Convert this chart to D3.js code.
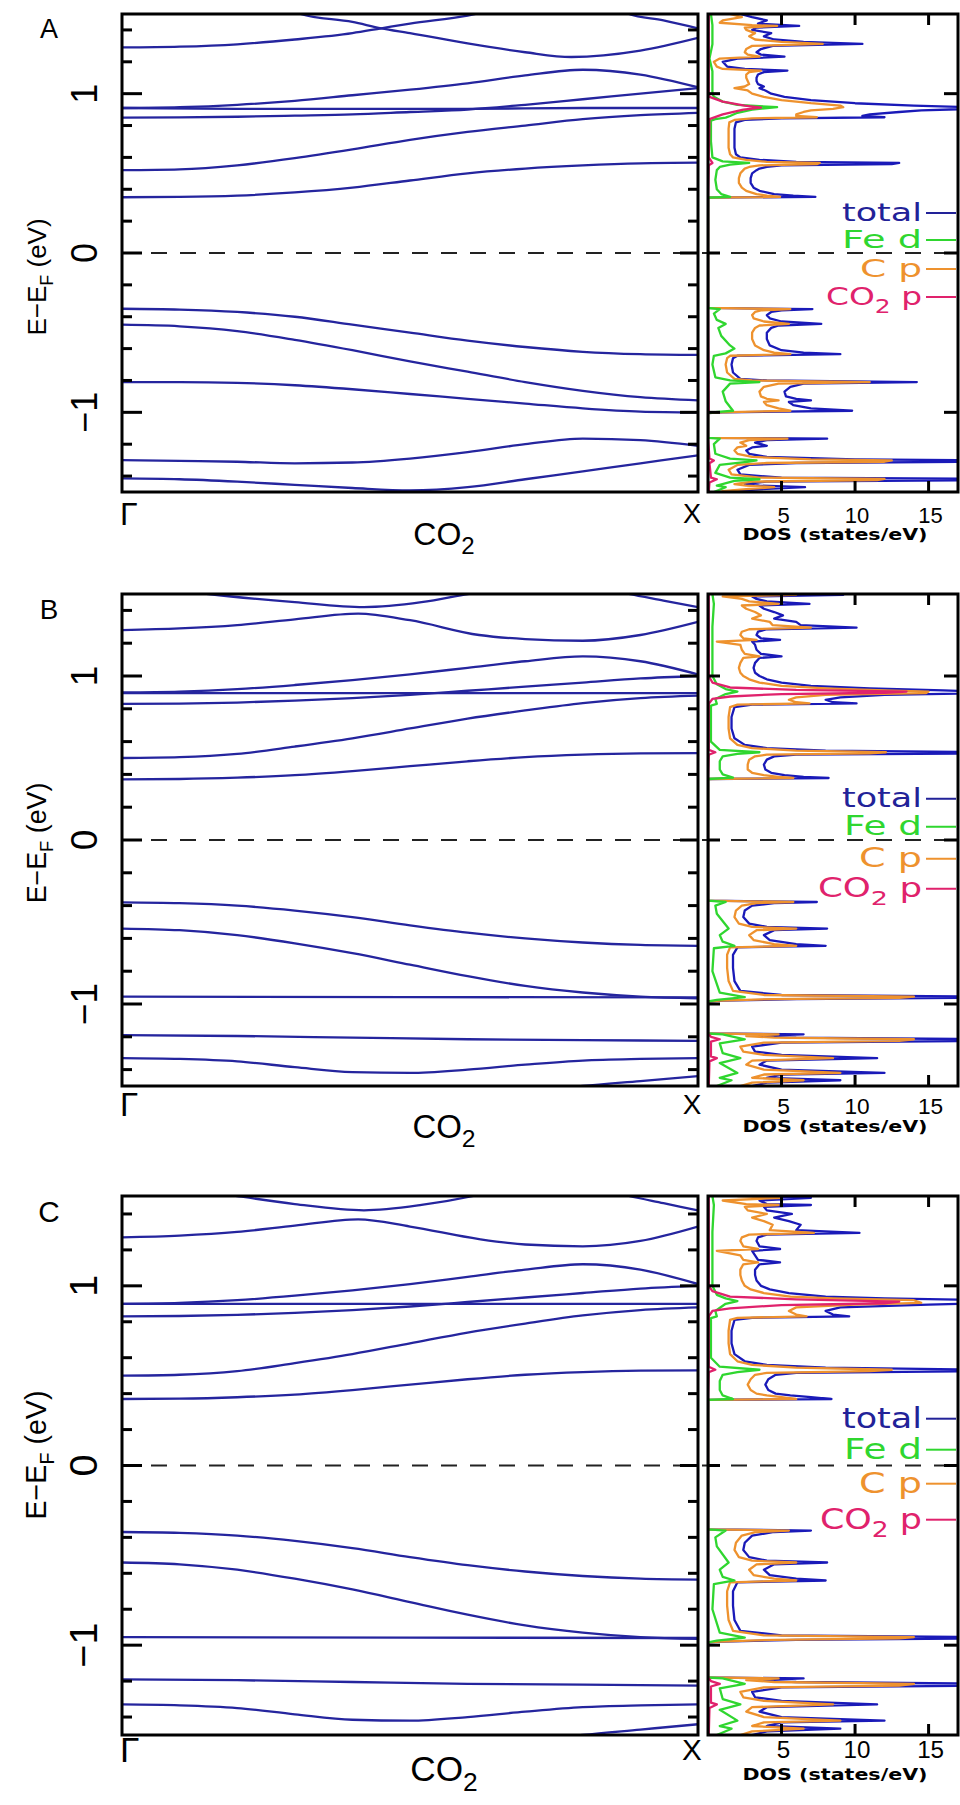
<!DOCTYPE html>
<html><head><meta charset="utf-8">
<script src="https://cdn.jsdelivr.net/npm/d3@7"></script>
<style>body{margin:0;background:#fff}svg{display:block}</style>
</head><body>
<svg id="chart" width="960" height="1805"></svg>
<script>
// ---------------- DATA ----------------
const panelLetters = ["A", "B", "C"];
const yMajorTicks = [-1, 0, 1];
const yMinorTicks = [-1.4, -1.2, -0.8, -0.6, -0.4, -0.2, 0.2, 0.4, 0.6, 0.8, 1.2, 1.4];
const dosTicks = [5, 10, 15];
const kPointLabels = ["Γ", "X"];
const legendLabels = ["total", "Fe d", "C p", "CO2 p"];

// bands: each band is a list of [k (0=Γ .. 1=X), E-EF (eV)]
const bandsA = [
  [[0,0.35],[0.1,0.352],[0.2,0.36],[0.3,0.38],[0.4,0.41],[0.5,0.455],[0.6,0.50],[0.7,0.53],[0.8,0.55],[0.9,0.563],[1,0.567]],
  [[0,0.52],[0.1,0.525],[0.2,0.55],[0.3,0.595],[0.4,0.65],[0.5,0.71],[0.6,0.76],[0.7,0.80],[0.8,0.84],[0.9,0.865],[1,0.88]],
  [[0,0.91],[0.2,0.905],[0.4,0.905],[0.6,0.905],[0.8,0.91],[1,0.91]],
  [[0,0.85],[0.1,0.851],[0.2,0.855],[0.3,0.862],[0.4,0.87],[0.5,0.885],[0.6,0.90],[0.7,0.93],[0.8,0.965],[0.9,1.0],[1,1.035]],
  [[0,0.91],[0.1,0.915],[0.2,0.93],[0.3,0.955],[0.4,0.99],[0.5,1.025],[0.6,1.065],[0.7,1.115],[0.8,1.15],[0.9,1.12],[1,1.04]],
  [[0.29,1.53],[0.31,1.5],[0.4,1.45],[0.45,1.41],[0.5,1.38],[0.6,1.315],[0.7,1.26],[0.78,1.23],[0.9,1.27],[1,1.35]],
  [[0,1.29],[0.1,1.295],[0.2,1.31],[0.3,1.34],[0.4,1.38],[0.45,1.41],[0.5,1.44],[0.6,1.49],[0.65,1.53]],
  [[0.86,1.53],[0.88,1.5],[0.94,1.46],[1,1.41]],
  [[0,-0.35],[0.1,-0.355],[0.2,-0.37],[0.3,-0.40],[0.4,-0.45],[0.5,-0.50],[0.6,-0.55],[0.7,-0.59],[0.8,-0.62],[0.9,-0.635],[1,-0.64]],
  [[0,-0.45],[0.1,-0.46],[0.2,-0.49],[0.3,-0.545],[0.4,-0.61],[0.5,-0.68],[0.6,-0.745],[0.7,-0.81],[0.8,-0.865],[0.9,-0.905],[1,-0.925]],
  [[0,-0.81],[0.1,-0.81],[0.2,-0.815],[0.3,-0.83],[0.4,-0.855],[0.5,-0.885],[0.6,-0.915],[0.7,-0.945],[0.8,-0.975],[0.9,-0.995],[1,-1.0]],
  [[0,-1.30],[0.1,-1.305],[0.2,-1.31],[0.3,-1.32],[0.4,-1.315],[0.5,-1.29],[0.6,-1.25],[0.7,-1.20],[0.8,-1.165],[0.9,-1.175],[1,-1.21]],
  [[0,-1.415],[0.1,-1.42],[0.2,-1.435],[0.3,-1.455],[0.4,-1.475],[0.5,-1.49],[0.6,-1.47],[0.7,-1.42],[0.8,-1.37],[0.9,-1.32],[1,-1.27]]
];
const bandsB = [
  [[0,0.37],[0.1,0.372],[0.2,0.38],[0.3,0.395],[0.4,0.42],[0.5,0.45],[0.6,0.48],[0.7,0.505],[0.8,0.52],[0.9,0.528],[1,0.53]],
  [[0,0.50],[0.1,0.505],[0.2,0.525],[0.3,0.57],[0.4,0.62],[0.5,0.68],[0.6,0.74],[0.7,0.79],[0.8,0.835],[0.9,0.865],[1,0.88]],
  [[0,0.895],[0.5,0.895],[1,0.895]],
  [[0,0.83],[0.1,0.832],[0.2,0.838],[0.3,0.85],[0.4,0.865],[0.5,0.885],[0.6,0.91],[0.7,0.935],[0.8,0.96],[0.9,0.985],[1,1.0]],
  [[0,0.90],[0.1,0.905],[0.2,0.92],[0.3,0.945],[0.4,0.975],[0.5,1.01],[0.6,1.05],[0.7,1.09],[0.8,1.12],[0.9,1.09],[1,1.01]],
  [[0,1.28],[0.1,1.29],[0.2,1.31],[0.3,1.345],[0.41,1.38],[0.5,1.34],[0.62,1.25],[0.7,1.225],[0.8,1.215],[0.9,1.25],[1,1.33]],
  [[0.08,1.53],[0.15,1.5],[0.3,1.45],[0.42,1.42],[0.52,1.45],[0.6,1.5],[0.65,1.53]],
  [[0.84,1.53],[0.88,1.5],[0.94,1.46],[1,1.42]],
  [[0,-0.38],[0.1,-0.385],[0.2,-0.40],[0.3,-0.43],[0.4,-0.47],[0.5,-0.52],[0.6,-0.565],[0.7,-0.60],[0.8,-0.625],[0.9,-0.64],[1,-0.645]],
  [[0,-0.54],[0.1,-0.55],[0.2,-0.58],[0.3,-0.63],[0.4,-0.69],[0.5,-0.76],[0.6,-0.83],[0.7,-0.89],[0.8,-0.93],[0.9,-0.955],[1,-0.965]],
  [[0,-0.955],[0.5,-0.958],[1,-0.96]],
  [[0,-1.19],[0.2,-1.195],[0.4,-1.205],[0.6,-1.215],[0.8,-1.22],[1,-1.225]],
  [[0,-1.33],[0.1,-1.335],[0.2,-1.35],[0.3,-1.385],[0.4,-1.415],[0.5,-1.42],[0.6,-1.40],[0.7,-1.37],[0.8,-1.345],[0.9,-1.335],[1,-1.33]],
  [[0.72,-1.53],[0.8,-1.5],[0.9,-1.47],[1,-1.44]]
];
const bandsC = [
  [[0,0.37],[0.1,0.372],[0.2,0.38],[0.3,0.395],[0.4,0.42],[0.5,0.45],[0.6,0.48],[0.7,0.505],[0.8,0.52],[0.9,0.528],[1,0.53]],
  [[0,0.50],[0.1,0.505],[0.2,0.525],[0.3,0.57],[0.4,0.62],[0.5,0.68],[0.6,0.74],[0.7,0.79],[0.8,0.835],[0.9,0.865],[1,0.88]],
  [[0,0.90],[0.5,0.90],[1,0.90]],
  [[0,0.83],[0.1,0.832],[0.2,0.838],[0.3,0.85],[0.4,0.865],[0.5,0.885],[0.6,0.91],[0.7,0.935],[0.8,0.96],[0.9,0.985],[1,1.0]],
  [[0,0.90],[0.1,0.905],[0.2,0.92],[0.3,0.945],[0.4,0.975],[0.5,1.01],[0.6,1.05],[0.7,1.09],[0.8,1.12],[0.9,1.09],[1,1.01]],
  [[0,1.27],[0.1,1.28],[0.2,1.30],[0.3,1.335],[0.41,1.37],[0.5,1.33],[0.62,1.26],[0.7,1.23],[0.8,1.22],[0.9,1.25],[1,1.33]],
  [[0.14,1.53],[0.2,1.5],[0.3,1.455],[0.42,1.42],[0.52,1.45],[0.61,1.5],[0.65,1.53]],
  [[0.84,1.53],[0.88,1.5],[0.94,1.46],[1,1.42]],
  [[0,-0.37],[0.1,-0.375],[0.2,-0.39],[0.3,-0.42],[0.4,-0.46],[0.5,-0.51],[0.6,-0.555],[0.7,-0.59],[0.8,-0.615],[0.9,-0.63],[1,-0.635]],
  [[0,-0.54],[0.1,-0.55],[0.2,-0.58],[0.3,-0.63],[0.4,-0.69],[0.5,-0.76],[0.6,-0.83],[0.7,-0.89],[0.8,-0.93],[0.9,-0.955],[1,-0.965]],
  [[0,-0.955],[0.5,-0.958],[1,-0.96]],
  [[0,-1.19],[0.2,-1.195],[0.4,-1.205],[0.6,-1.215],[0.8,-1.22],[1,-1.225]],
  [[0,-1.33],[0.1,-1.335],[0.2,-1.35],[0.3,-1.385],[0.4,-1.415],[0.5,-1.42],[0.6,-1.40],[0.7,-1.37],[0.8,-1.345],[0.9,-1.335],[1,-1.33]],
  [[0.72,-1.53],[0.8,-1.5],[0.9,-1.47],[1,-1.44]]
];

// DOS: each entry [E-EF (eV), DOS (states/eV)]
const dosTotalA = [[1.50,2.2],[1.48,3.0],[1.46,4.0],[1.44,3.4],[1.425,6.2],[1.415,3.3],[1.40,3.0],[1.38,4.3],[1.36,3.8],[1.34,4.5],[1.325,6.5],[1.312,10.5],[1.30,4.4],[1.28,3.6],[1.26,3.3],[1.245,3.6],[1.232,5.2],[1.22,2.0],[1.20,1.0],[1.17,1.3],[1.155,2.5],[1.145,5.4],[1.135,3.8],[1.12,3.4],[1.10,3.3],[1.08,3.3],[1.06,3.4],[1.045,3.8],[1.035,3.5],[1.02,3.9],[1.00,4.3],[0.98,5.2],[0.96,7.0],[0.94,10.0],[0.925,14.0],[0.915,18.0],[0.905,18.0],[0.895,14.5],[0.885,13.0],[0.87,11.0],[0.86,10.5],[0.852,12.0],[0.845,5.0],[0.835,2.5],[0.82,1.9],[0.78,1.8],[0.72,1.8],[0.66,1.8],[0.62,1.9],[0.60,2.2],[0.585,3.5],[0.572,6.0],[0.565,13.0],[0.558,12.5],[0.55,5.0],[0.54,4.0],[0.53,3.5],[0.52,3.3],[0.50,3.0],[0.47,2.9],[0.44,2.9],[0.41,3.1],[0.39,3.5],[0.37,4.5],[0.36,5.8],[0.352,7.3],[0.348,0],
  [-0.345,0],[-0.352,7.1],[-0.36,5.0],[-0.37,4.3],[-0.39,4.0],[-0.41,4.2],[-0.43,5.0],[-0.445,7.7],[-0.455,4.8],[-0.47,4.3],[-0.50,4.0],[-0.54,4.0],[-0.58,4.2],[-0.61,5.0],[-0.625,6.5],[-0.635,9.0],[-0.645,2.0],[-0.66,1.7],[-0.70,1.6],[-0.75,1.7],[-0.79,2.2],[-0.80,4.0],[-0.81,14.2],[-0.82,6.5],[-0.84,5.6],[-0.87,5.2],[-0.90,5.3],[-0.915,6.0],[-0.925,7.0],[-0.935,5.5],[-0.955,5.8],[-0.975,7.0],[-0.99,9.8],[-1.0,1.0],[-1.005,0],[-1.16,0],[-1.165,8.1],[-1.175,4.0],[-1.19,3.2],[-1.21,4.0],[-1.22,3.0],[-1.24,2.6],[-1.26,2.8],[-1.28,4.0],[-1.295,10],[-1.302,19],[-1.31,19],[-1.318,6],[-1.33,2.8],[-1.36,2.0],[-1.39,2.2],[-1.41,5],[-1.418,19],[-1.425,19],[-1.435,4],[-1.45,2.5],[-1.46,3.5],[-1.47,6.6],[-1.48,4],[-1.495,1.5],[-1.5,1.0]];
const dosCpA = [[1.50,1.5],[1.48,2.3],[1.46,1.0],[1.445,0.8],[1.43,3.0],[1.425,4.7],[1.415,2.5],[1.40,2.6],[1.38,3.2],[1.36,2.8],[1.34,3.2],[1.325,5.0],[1.312,7.8],[1.30,3.0],[1.28,2.6],[1.26,2.5],[1.245,2.7],[1.232,3.5],[1.22,0.8],[1.20,0.4],[1.17,0.6],[1.155,1.0],[1.145,3.6],[1.135,2.8],[1.12,2.6],[1.10,2.6],[1.08,2.7],[1.06,2.8],[1.045,2.5],[1.035,1.8],[1.02,2.7],[1.00,3.0],[0.98,3.8],[0.96,5.0],[0.94,7.0],[0.925,9.0],[0.915,9.2],[0.905,8.5],[0.895,7.0],[0.885,6.5],[0.87,6.0],[0.86,6.0],[0.852,7.4],[0.845,3.0],[0.835,1.8],[0.82,1.45],[0.78,1.4],[0.72,1.4],[0.66,1.4],[0.62,1.5],[0.60,1.7],[0.585,2.6],[0.572,4.0],[0.565,7.6],[0.558,7.4],[0.55,3.5],[0.54,2.8],[0.53,2.5],[0.52,2.4],[0.50,2.2],[0.47,2.1],[0.44,2.1],[0.41,2.3],[0.39,2.6],[0.37,3.3],[0.36,4.0],[0.352,4.9],[0.348,0],
  [-0.345,0],[-0.352,5.6],[-0.36,3.6],[-0.37,3.2],[-0.39,3.0],[-0.41,3.1],[-0.43,3.8],[-0.445,5.5],[-0.455,3.5],[-0.47,3.2],[-0.50,3.0],[-0.54,3.0],[-0.58,3.2],[-0.61,3.8],[-0.625,4.5],[-0.635,5.6],[-0.645,1.5],[-0.66,1.3],[-0.70,1.2],[-0.75,1.3],[-0.79,1.8],[-0.80,3.0],[-0.81,11.0],[-0.82,4.8],[-0.84,3.8],[-0.87,3.5],[-0.90,3.6],[-0.915,4.0],[-0.925,4.8],[-0.935,3.8],[-0.955,4.0],[-0.975,4.8],[-0.99,5.6],[-1.0,0.8],[-1.005,0],[-1.16,0],[-1.165,5.4],[-1.175,2.8],[-1.19,2.2],[-1.21,2.6],[-1.22,2.0],[-1.24,1.8],[-1.26,2.0],[-1.28,3.0],[-1.295,7],[-1.302,12.5],[-1.31,12],[-1.318,4],[-1.33,2.0],[-1.36,1.4],[-1.39,1.6],[-1.41,3.5],[-1.418,12],[-1.425,11.5],[-1.435,3],[-1.45,1.8],[-1.46,2.6],[-1.47,4.5],[-1.48,2.8],[-1.495,1.0],[-1.5,0.8]];
const dosFeA = [[1.50,0.2],[1.43,0.3],[1.31,0.3],[1.22,0.1],[1.14,0.3],[1.0,0.3],[0.98,0.4],[0.95,1.0],[0.93,2.0],[0.915,4.7],[0.90,3.0],[0.88,2.0],[0.86,1.5],[0.85,1.2],[0.84,0.5],[0.83,0.2],[0.70,0.2],[0.60,0.3],[0.575,1.0],[0.565,2.8],[0.555,1.5],[0.54,0.8],[0.52,0.6],[0.46,0.5],[0.40,0.6],[0.37,0.9],[0.352,1.5],[0.348,0],
  [-0.345,0],[-0.352,0.8],[-0.38,0.4],[-0.42,0.6],[-0.445,1.2],[-0.47,0.7],[-0.52,0.9],[-0.58,1.5],[-0.60,1.8],[-0.63,1.2],[-0.645,0.4],[-0.70,0.3],[-0.78,0.5],[-0.80,1.5],[-0.81,3.5],[-0.82,1.5],[-0.87,1.0],[-0.93,1.2],[-0.99,1.7],[-1.0,0.3],[-1.005,0],[-1.16,0],[-1.165,0.8],[-1.20,0.4],[-1.26,0.5],[-1.29,1.5],[-1.302,3.3],[-1.31,2.8],[-1.33,0.8],[-1.38,0.5],[-1.41,1.5],[-1.42,3.5],[-1.43,1.8],[-1.46,0.6],[-1.47,1.2],[-1.5,0.4]];
const dosCO2A = [[1.50,0.05],[1.0,0.05],[0.98,0.1],[0.95,1.0],[0.925,2.5],[0.912,3.6],[0.90,2.4],[0.87,1.0],[0.84,0.1],[0.60,0.05],[0.565,0.3],[0.55,0.05],[0.348,0],
  [-0.345,0],[-1.0,0.05],[-1.005,0],[-1.16,0],[-1.29,0.1],[-1.302,0.4],[-1.32,0.1],[-1.41,0.2],[-1.42,0.6],[-1.44,0.1],[-1.5,0.05]];

const dosTotalB = [[1.50,3.0],[1.495,9.2],[1.485,3.0],[1.47,3.3],[1.455,4.0],[1.44,6.9],[1.43,3.5],[1.41,3.8],[1.39,4.5],[1.37,5.1],[1.35,4.5],[1.33,6.0],[1.31,6.3],[1.295,10.1],[1.285,4.0],[1.27,3.4],[1.25,3.3],[1.23,3.6],[1.22,4.9],[1.21,3.0],[1.19,3.2],[1.16,3.3],[1.135,3.6],[1.12,5.0],[1.11,3.5],[1.08,3.2],[1.05,3.1],[1.02,3.2],[1.0,3.5],[0.98,4.0],[0.96,5.0],[0.94,7.0],[0.925,11.0],[0.912,16.0],[0.905,19],[0.895,19],[0.885,12],[0.87,9.0],[0.855,8.0],[0.84,8.5],[0.833,10.1],[0.825,3.0],[0.81,1.8],[0.75,1.6],[0.68,1.6],[0.62,1.8],[0.58,2.5],[0.56,4.0],[0.545,8.0],[0.535,19],[0.528,19],[0.52,6.0],[0.51,4.5],[0.49,4.0],[0.46,3.8],[0.43,3.9],[0.41,4.3],[0.395,5.2],[0.385,6.5],[0.378,8.2],[0.372,0],
  [-0.37,0],[-0.378,7.4],[-0.385,4.5],[-0.40,3.0],[-0.43,2.5],[-0.47,2.4],[-0.51,2.8],[-0.53,4.0],[-0.54,8.1],[-0.55,4.5],[-0.58,3.8],[-0.61,4.2],[-0.635,6.0],[-0.645,8.0],[-0.655,2.0],[-0.70,1.7],[-0.78,1.7],[-0.86,1.8],[-0.92,2.2],[-0.945,5.0],[-0.955,19],[-0.962,19],[-0.97,6],[-0.98,1],[-0.985,0],[-1.18,0],[-1.185,6.5],[-1.195,3.5],[-1.205,6.0],[-1.215,19],[-1.225,19],[-1.235,5],[-1.26,3.0],[-1.29,3.2],[-1.31,5],[-1.33,11.5],[-1.345,4],[-1.37,3.5],[-1.40,5],[-1.42,12],[-1.43,5],[-1.45,4],[-1.465,9],[-1.48,4],[-1.5,3]];
const dosCpB = [[1.50,2.0],[1.495,6.0],[1.485,1.0],[1.47,2.3],[1.455,2.8],[1.44,4.8],[1.43,2.3],[1.41,2.6],[1.39,3.2],[1.37,3.6],[1.35,3.0],[1.33,4.2],[1.31,4.4],[1.295,7.0],[1.285,2.8],[1.27,2.3],[1.25,2.2],[1.23,2.4],[1.22,3.3],[1.21,0.6],[1.19,2.2],[1.16,2.3],[1.135,2.5],[1.12,3.5],[1.11,2.4],[1.08,2.2],[1.05,2.1],[1.02,2.2],[1.0,2.4],[0.98,2.8],[0.96,3.5],[0.94,5.0],[0.925,8.0],[0.912,12.0],[0.905,15],[0.895,14.8],[0.885,8],[0.87,6.0],[0.855,5.5],[0.84,6.0],[0.833,6.9],[0.825,2.0],[0.81,1.5],[0.75,1.4],[0.68,1.4],[0.62,1.5],[0.58,2.0],[0.56,3.0],[0.545,6.0],[0.535,12.1],[0.528,11],[0.52,4.0],[0.51,3.2],[0.49,2.8],[0.46,2.7],[0.43,2.7],[0.41,3.0],[0.395,3.8],[0.385,4.8],[0.378,5.8],[0.372,0],
  [-0.37,0],[-0.378,5.8],[-0.385,3.3],[-0.40,2.3],[-0.43,1.9],[-0.47,1.8],[-0.51,2.1],[-0.53,3.0],[-0.54,6.0],[-0.55,3.3],[-0.58,2.8],[-0.61,3.1],[-0.635,4.5],[-0.645,6.0],[-0.655,1.5],[-0.70,1.3],[-0.78,1.3],[-0.86,1.4],[-0.92,1.7],[-0.945,3.8],[-0.955,14],[-0.962,13],[-0.97,4.5],[-0.98,0.8],[-0.985,0],[-1.18,0],[-1.185,4.8],[-1.195,2.6],[-1.205,4.5],[-1.215,14],[-1.225,13],[-1.235,3.8],[-1.26,2.2],[-1.29,2.4],[-1.31,3.8],[-1.33,8.5],[-1.345,3],[-1.37,2.6],[-1.40,3.8],[-1.42,9],[-1.43,3.8],[-1.45,3],[-1.465,6.5],[-1.48,3],[-1.5,2.2]];
const dosFeB = [[1.50,0.3],[1.44,0.4],[1.30,0.3],[1.12,0.3],[1.0,0.3],[0.95,0.6],[0.92,1.2],[0.905,2.0],[0.89,1.2],[0.86,0.5],[0.83,0.6],[0.82,0.2],[0.60,0.2],[0.55,0.8],[0.535,3.5],[0.525,2.0],[0.51,1.0],[0.48,0.8],[0.43,0.8],[0.40,1.0],[0.38,1.7],[0.372,0],
  [-0.37,0],[-0.378,1.2],[-0.40,0.5],[-0.45,0.6],[-0.54,1.4],[-0.58,0.8],[-0.62,1.0],[-0.645,1.8],[-0.66,0.4],[-0.80,0.3],[-0.93,0.8],[-0.958,2.5],[-0.975,0.6],[-0.985,0],[-1.18,0],[-1.185,1.0],[-1.215,2.5],[-1.24,0.8],[-1.30,1.0],[-1.33,2.2],[-1.36,0.8],[-1.42,2.0],[-1.45,0.8],[-1.465,1.6],[-1.5,0.6]];
const dosCO2B = [[1.50,0.05],[1.0,0.05],[0.96,0.3],[0.93,1.5],[0.915,6.0],[0.905,13.5],[0.898,12.0],[0.89,5.0],[0.875,1.5],[0.86,0.3],[0.83,0.05],[0.55,0.05],[0.535,0.5],[0.52,0.05],[0.372,0],
  [-0.37,0],[-0.985,0],[-1.18,0],[-1.20,0.2],[-1.215,0.8],[-1.23,0.2],[-1.32,0.2],[-1.33,0.6],[-1.35,0.1],[-1.5,0.05]];

const dosTotalC = [[1.50,3.0],[1.49,7.0],[1.475,3.5],[1.455,4.0],[1.45,7.0],[1.44,3.8],[1.42,4.0],[1.40,5.7],[1.38,4.5],[1.36,5.5],[1.34,6.3],[1.31,6.0],[1.295,10.3],[1.285,4.0],[1.27,3.4],[1.25,3.3],[1.22,3.5],[1.205,4.9],[1.195,3.0],[1.17,3.2],[1.145,3.4],[1.13,4.9],[1.12,3.5],[1.09,3.2],[1.06,3.2],[1.03,3.3],[1.0,3.6],[0.98,4.2],[0.96,5.5],[0.94,8.0],[0.93,12.0],[0.92,19],[0.905,19],[0.895,15],[0.88,9.0],[0.86,8.0],[0.84,8.5],[0.83,9.6],[0.822,3.0],[0.81,1.8],[0.75,1.6],[0.68,1.6],[0.62,1.8],[0.58,2.5],[0.56,4.0],[0.545,8.0],[0.533,19],[0.525,19],[0.515,6.0],[0.505,4.6],[0.48,4.1],[0.45,3.9],[0.42,4.1],[0.40,4.6],[0.39,5.6],[0.38,7.0],[0.37,8.4],[0.365,0],
  [-0.355,0],[-0.362,7.0],[-0.37,4.5],[-0.39,3.0],[-0.43,2.5],[-0.47,2.4],[-0.51,2.8],[-0.53,4.0],[-0.54,8.1],[-0.55,4.5],[-0.58,3.8],[-0.61,4.2],[-0.63,6.0],[-0.64,8.0],[-0.65,2.0],[-0.70,1.7],[-0.78,1.7],[-0.86,1.8],[-0.92,2.2],[-0.945,5.0],[-0.955,19],[-0.962,19],[-0.97,6],[-0.98,1],[-0.985,0],[-1.18,0],[-1.185,6.5],[-1.195,3.5],[-1.205,6.0],[-1.215,19],[-1.225,19],[-1.235,5],[-1.26,3.0],[-1.29,3.2],[-1.31,5],[-1.33,11.5],[-1.345,4],[-1.37,3.5],[-1.40,5],[-1.42,12],[-1.43,5],[-1.45,4],[-1.465,9],[-1.48,4],[-1.5,3]];
const dosCpC = [[1.50,2.0],[1.49,5.0],[1.475,1.0],[1.455,2.6],[1.45,4.8],[1.44,2.5],[1.42,2.7],[1.40,4.0],[1.38,3.0],[1.36,3.8],[1.34,4.4],[1.31,4.2],[1.295,7.2],[1.285,2.8],[1.27,2.3],[1.25,2.2],[1.22,2.4],[1.205,3.4],[1.195,0.6],[1.17,2.2],[1.145,2.4],[1.13,3.4],[1.12,2.4],[1.09,2.2],[1.06,2.2],[1.03,2.3],[1.0,2.5],[0.98,2.9],[0.96,3.8],[0.94,5.6],[0.93,8.5],[0.92,14],[0.905,14.5],[0.895,10],[0.88,6.0],[0.86,5.5],[0.84,6.0],[0.83,6.7],[0.822,2.0],[0.81,1.5],[0.75,1.4],[0.68,1.4],[0.62,1.5],[0.58,2.0],[0.56,3.0],[0.545,6.0],[0.533,12.5],[0.525,11],[0.515,4.0],[0.505,3.2],[0.48,2.9],[0.45,2.7],[0.42,2.9],[0.40,3.3],[0.39,4.0],[0.38,5.0],[0.37,6.0],[0.365,0],
  [-0.355,0],[-0.362,5.5],[-0.37,3.3],[-0.39,2.3],[-0.43,1.9],[-0.47,1.8],[-0.51,2.1],[-0.53,3.0],[-0.54,6.0],[-0.55,3.3],[-0.58,2.8],[-0.61,3.1],[-0.63,4.5],[-0.64,6.0],[-0.65,1.5],[-0.70,1.3],[-0.78,1.3],[-0.86,1.4],[-0.92,1.7],[-0.945,3.8],[-0.955,14],[-0.962,13],[-0.97,4.5],[-0.98,0.8],[-0.985,0],[-1.18,0],[-1.185,4.8],[-1.195,2.6],[-1.205,4.5],[-1.215,14],[-1.225,13],[-1.235,3.8],[-1.26,2.2],[-1.29,2.4],[-1.31,3.8],[-1.33,8.5],[-1.345,3],[-1.37,2.6],[-1.40,3.8],[-1.42,9],[-1.43,3.8],[-1.45,3],[-1.465,6.5],[-1.48,3],[-1.5,2.2]];
const dosFeC = [[1.50,0.3],[1.45,0.4],[1.30,0.3],[1.13,0.3],[1.0,0.3],[0.95,0.6],[0.93,1.2],[0.915,2.0],[0.90,1.2],[0.86,0.5],[0.83,0.6],[0.82,0.2],[0.60,0.2],[0.55,0.8],[0.533,3.5],[0.52,2.0],[0.505,1.0],[0.47,0.8],[0.42,0.8],[0.39,1.0],[0.37,1.7],[0.365,0],
  [-0.355,0],[-0.362,1.2],[-0.40,0.5],[-0.45,0.6],[-0.54,1.4],[-0.58,0.8],[-0.62,1.0],[-0.64,1.8],[-0.66,0.4],[-0.80,0.3],[-0.93,0.8],[-0.958,2.5],[-0.975,0.6],[-0.985,0],[-1.18,0],[-1.185,1.0],[-1.215,2.5],[-1.24,0.8],[-1.30,1.0],[-1.33,2.2],[-1.36,0.8],[-1.42,2.0],[-1.45,0.8],[-1.465,1.6],[-1.5,0.6]];
const dosCO2C = [[1.50,0.05],[1.0,0.05],[0.97,0.3],[0.94,1.5],[0.925,6.0],[0.912,13.0],[0.903,12.0],[0.893,5.0],[0.875,1.5],[0.86,0.3],[0.83,0.05],[0.55,0.05],[0.533,0.5],[0.52,0.05],[0.365,0],
  [-0.355,0],[-0.985,0],[-1.18,0],[-1.20,0.2],[-1.215,0.8],[-1.23,0.2],[-1.32,0.2],[-1.33,0.6],[-1.35,0.1],[-1.5,0.05]];

// ---------------- LAYOUT ----------------
const panels = [
  {bands: bandsA, dos: [dosTotalA, dosCpA, dosFeA, dosCO2A], top: 14,  bottom: 492,  titleY: 277,  fs: 1.0,
   off: {gam: 33, x: 31, num: 31, dosl: 48, co2: 53}, lgOff: [-32, -5, 24, 52], lgLen: [80, 80, 62, 96]},
  {bands: bandsB, dos: [dosTotalB, dosCpB, dosFeB, dosCO2B], top: 594, bottom: 1086, titleY: 843,  fs: 1.03,
   off: {gam: 30, x: 28, num: 28, dosl: 46, co2: 52}, lgOff: [-33, -5, 27, 57], lgLen: [80, 78, 63, 104]},
  {bands: bandsC, dos: [dosTotalC, dosCpC, dosFeC, dosCO2C], top: 1196, bottom: 1735, titleY: 1455, fs: 1.1,
   off: {gam: 27, x: 25, num: 23, dosl: 45, co2: 46}, lgOff: [-38, -7, 27, 63], lgLen: [80, 78, 63, 102]}
];
const bandX0 = 122, bandX1 = 698, dosX0 = 708, dosX1 = 958;
const dosColors = ["#1a1ab8", "#ee922e", "#2fd62f", "#e0226c"];
const legendColors = ["#222298", "#2fd62f", "#ee922e", "#e0226c"];
const bandColor = "#25259e";
const FONT = "Liberation Sans, Arial, sans-serif";

const svg = d3.select("#chart");
svg.append("rect").attr("width", 960).attr("height", 1805).attr("fill", "#fff");

const xK = d3.scaleLinear().domain([0, 1]).range([bandX0, bandX1]);
const xD = d3.scaleLinear().domain([0, 17]).range([dosX0, dosX1]);

panels.forEach((p, i) => {
  const g = svg.append("g");
  const y = d3.scaleLinear().domain([-1.5, 1.5]).range([p.bottom, p.top]);
  const fs = p.fs;
  const clipB = "clipB" + i, clipD = "clipD" + i;
  const defs = g.append("defs");
  defs.append("clipPath").attr("id", clipB).append("rect")
    .attr("x", bandX0).attr("y", p.top).attr("width", bandX1 - bandX0).attr("height", p.bottom - p.top);
  defs.append("clipPath").attr("id", clipD).append("rect")
    .attr("x", dosX0).attr("y", p.top).attr("width", dosX1 - dosX0).attr("height", p.bottom - p.top);

  g.append("line").attr("x1", bandX0).attr("x2", dosX1).attr("y1", y(0)).attr("y2", y(0))
    .attr("stroke", "#222").attr("stroke-width", 2).attr("stroke-dasharray", "16,13");

  const bandLine = d3.line().x(d => xK(d[0])).y(d => y(d[1])).curve(d3.curveMonotoneX);
  g.append("g").attr("clip-path", `url(#${clipB})`).selectAll("path").data(p.bands).join("path")
    .attr("d", bandLine).attr("fill", "none").attr("stroke", bandColor).attr("stroke-width", 2.3);

  const dosLine = d3.line().x(d => xD(d[1])).y(d => y(d[0]));
  g.append("g").attr("clip-path", `url(#${clipD})`).selectAll("path").data(p.dos).join("path")
    .attr("d", dosLine).attr("fill", "none").attr("stroke", (d, j) => dosColors[j]).attr("stroke-width", 2.3)
    .attr("stroke-linejoin", "round");

  [[bandX0, bandX1], [dosX0, dosX1]].forEach(([a, b]) => {
    g.append("rect").attr("x", a).attr("y", p.top).attr("width", b - a).attr("height", p.bottom - p.top)
      .attr("fill", "none").attr("stroke", "#000").attr("stroke-width", 3);
  });

  const tk = g.append("g").attr("stroke", "#000").attr("stroke-width", 3);
  yMinorTicks.forEach(v => {
    tk.append("line").attr("x1", bandX0).attr("x2", bandX0 + 10).attr("y1", y(v)).attr("y2", y(v));
    tk.append("line").attr("x1", bandX1).attr("x2", bandX1 - 10).attr("y1", y(v)).attr("y2", y(v));
  });
  yMajorTicks.forEach(v => {
    tk.append("line").attr("x1", bandX0).attr("x2", bandX0 + 20).attr("y1", y(v)).attr("y2", y(v));
    tk.append("line").attr("x1", bandX1).attr("x2", bandX1 - 18).attr("y1", y(v)).attr("y2", y(v));
    tk.append("line").attr("x1", dosX0).attr("x2", dosX0 + 12).attr("y1", y(v)).attr("y2", y(v));
    tk.append("line").attr("x1", dosX1).attr("x2", dosX1 - 14).attr("y1", y(v)).attr("y2", y(v));
  });
  dosTicks.forEach(v => {
    tk.append("line").attr("x1", xD(v)).attr("x2", xD(v)).attr("y1", p.top).attr("y2", p.top + 11);
    tk.append("line").attr("x1", xD(v)).attr("x2", xD(v)).attr("y1", p.bottom).attr("y2", p.bottom - 11);
  });

  yMajorTicks.forEach(v => {
    g.append("text").attr("transform", `translate(${97},${y(v)}) rotate(-90)`)
      .attr("text-anchor", "middle").attr("font-family", FONT)
      .attr("font-size", 36 * fs).text(v < 0 ? "\u2212" + Math.abs(v) : String(v));
  });

  const t = g.append("text").attr("transform", `translate(${46},${p.titleY}) rotate(-90)`)
    .attr("text-anchor", "middle").attr("font-family", FONT).attr("font-size", 26 * fs);
  t.append("tspan").text("E\u2212E");
  t.append("tspan").attr("font-size", 18 * fs).attr("dy", 7 * fs).text("F");
  t.append("tspan").attr("dy", -7 * fs).text(" (eV)");

  g.append("text").attr("x", 49).attr("y", p.top + 24 * fs).attr("text-anchor", "middle")
    .attr("font-family", FONT).attr("font-size", 27 * fs).text(panelLetters[i]);

  g.append("text").attr("x", bandX0 - 2).attr("y", p.bottom + p.off.gam)
    .attr("font-family", FONT).attr("font-size", 32 * fs).text(kPointLabels[0]);
  g.append("text").attr("x", bandX1 - 6).attr("y", p.bottom + p.off.x).attr("text-anchor", "middle")
    .attr("font-family", FONT).attr("font-size", 27 * fs).text(kPointLabels[1]);

  const co = g.append("text").attr("x", 444).attr("y", p.bottom + p.off.co2).attr("text-anchor", "middle")
    .attr("font-family", FONT).attr("font-size", 32 * fs);
  co.append("tspan").text("CO");
  co.append("tspan").attr("font-size", 24 * fs).attr("dy", 9 * fs).text("2");

  dosTicks.forEach(v => {
    g.append("text").attr("x", xD(v) + 2).attr("y", p.bottom + p.off.num).attr("text-anchor", "middle")
      .attr("font-family", FONT).attr("font-size", 22 * fs).text(v);
  });
  g.append("text").attr("x", 835).attr("y", p.bottom + p.off.dosl).attr("text-anchor", "middle")
    .attr("font-family", "DejaVu Sans, sans-serif").attr("font-weight", "bold").attr("font-size", 15)
    .attr("textLength", 185).attr("lengthAdjust", "spacingAndGlyphs").text("DOS (states/eV)");

  legendLabels.forEach((lab, j) => {
    const by = y(0) + p.lgOff[j];
    const tx = g.append("text").attr("x", 922 - p.lgLen[j]).attr("y", by)
      .attr("font-family", "DejaVu Sans, sans-serif").attr("font-size", 25 * fs)
      .attr("fill", legendColors[j]).attr("textLength", p.lgLen[j]).attr("lengthAdjust", "spacingAndGlyphs");
    if (lab === "CO2 p") {
      tx.append("tspan").text("CO");
      tx.append("tspan").attr("font-size", 19 * fs).attr("dy", 8 * fs).text("2");
      tx.append("tspan").attr("dy", -8 * fs).text(" p");
    } else {
      tx.text(lab);
    }
    g.append("line").attr("x1", 926).attr("x2", 956).attr("y1", by - 8 * fs).attr("y2", by - 8 * fs)
      .attr("stroke", legendColors[j]).attr("stroke-width", 2);
  });
});
</script>
</body></html>
